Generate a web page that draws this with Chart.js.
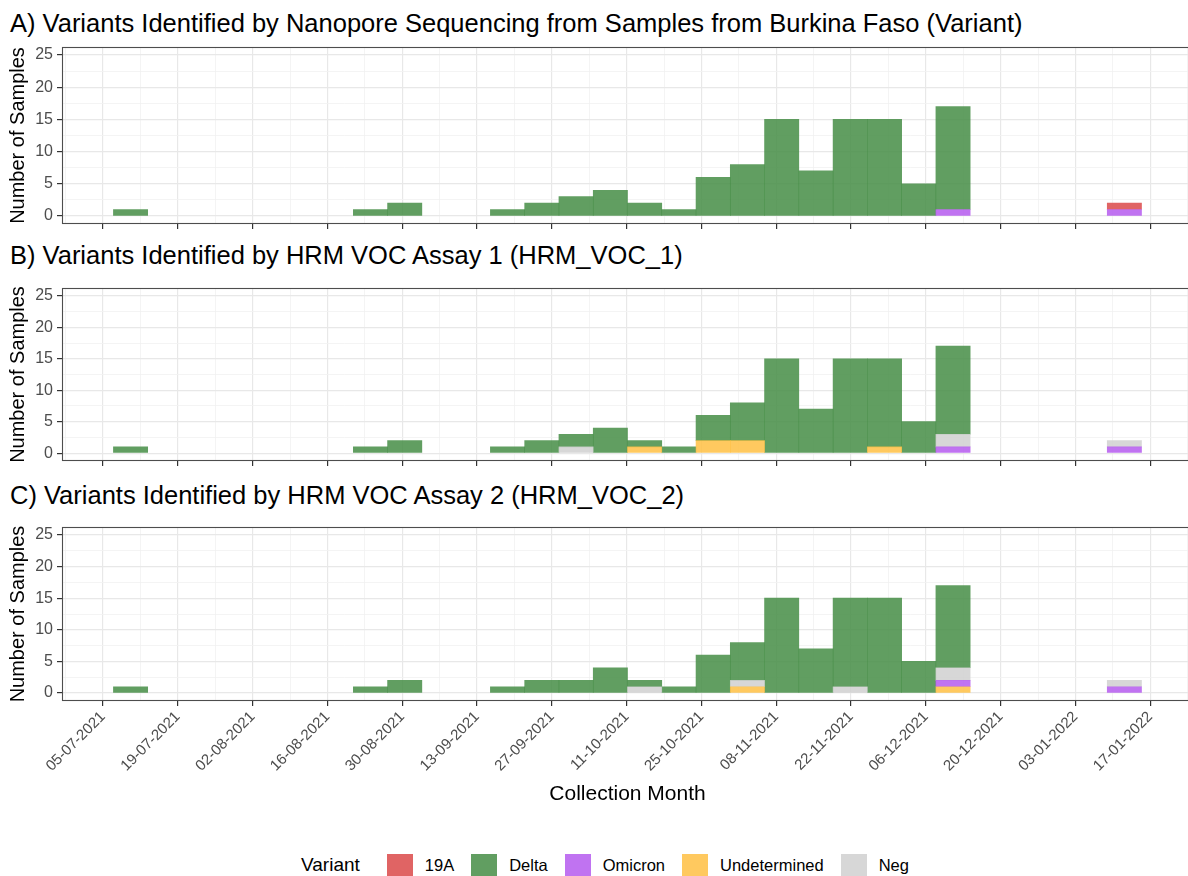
<!DOCTYPE html>
<html>
<head>
<meta charset="utf-8">
<script src="https://cdn.jsdelivr.net/npm/chart.js@4.4.1/dist/chart.umd.min.js"></script>
<style>
    body { margin: 0; width: 1188px; height: 876px; overflow: hidden; background: #fff;
           font-family: "Liberation Sans", Arial, sans-serif; position: relative; }
    .panel-title { position: absolute; left: 10px; font-size: 25.5px; line-height: 28px; color: #000; white-space: nowrap; }
    canvas { position: absolute; left: 0; }
    #legend { position: absolute; left: 301px; top: 854px; height: 22px; display: flex; align-items: center; }
    #legend .legend-title { font-size: 19px; margin-right: 27px; color: #000; }
    #legend .swatch { width: 26px; height: 22px; margin-right: 12px; }
    #legend .label { font-size: 16.5px; margin-right: 17px; color: #000; }
</style>
</head>
<body>
<div class="panel-title" id="title-a" style="top:9px"></div>
<canvas id="chart-a" width="1196" height="200" style="top:40px"></canvas>
<div class="panel-title" id="title-b" style="top:241px"></div>
<canvas id="chart-b" width="1196" height="200" style="top:281px"></canvas>
<div class="panel-title" id="title-c" style="top:481px"></div>
<canvas id="chart-c" width="1196" height="300" style="top:520px"></canvas>
<div id="legend"></div>

<script>
// =============================
// DATA
// =============================
const panelTitles = [
    'A) Variants Identified by Nanopore Sequencing from Samples from Burkina Faso (Variant)',
    'B) Variants Identified by HRM VOC Assay 1 (HRM_VOC_1)',
    'C) Variants Identified by HRM VOC Assay 2 (HRM_VOC_2)'
];

// histogram bin centres, in days after 05-07-2021
const binCentres = [5.15, 11.57, 17.98, 24.39, 30.81, 37.22, 43.63, 50.05, 56.46, 62.88,
                    69.29, 75.70, 82.12, 88.53, 94.95, 101.36, 107.77, 114.19, 120.60, 127.01,
                    133.43, 139.84, 146.26, 152.67, 159.08, 165.50, 171.91, 178.32, 184.74, 191.15];

// x ticks (days after 05-07-2021) and their labels
const tickDays = [0, 14, 28, 42, 56, 70, 84, 98, 112, 126, 140, 154, 168, 182, 196];
const tickLabels = ['05-07-2021', '19-07-2021', '02-08-2021', '16-08-2021', '30-08-2021',
                    '13-09-2021', '27-09-2021', '11-10-2021', '25-10-2021', '08-11-2021',
                    '22-11-2021', '06-12-2021', '20-12-2021', '03-01-2022', '17-01-2022'];
const yTicks = [0, 5, 10, 15, 20, 25];

const variantNames = ['19A', 'Delta', 'Omicron', 'Undetermined', 'Neg'];
const variantColours = ['rgba(219, 73, 73, 0.85)', 'rgba(69, 141, 69, 0.85)', 'rgba(181, 91, 238, 0.85)',
                        'rgba(255, 191, 67, 0.85)', 'rgba(208, 208, 208, 0.85)'];

// A) Nanopore
const nanoDelta   = [1,0,0,0,0,0,0,1,2,0,0,1,2,3,4,2,1,6,8,15,7,15,15,5,16,0,0,0,0,0];
const nanoOmicron = [0,0,0,0,0,0,0,0,0,0,0,0,0,0,0,0,0,0,0,0,0,0,0,0,1,0,0,0,0,1];
const nano19A     = [0,0,0,0,0,0,0,0,0,0,0,0,0,0,0,0,0,0,0,0,0,0,0,0,0,0,0,0,0,1];

// B) HRM_VOC_1
const voc1Delta        = [1,0,0,0,0,0,0,1,2,0,0,1,2,2,4,1,1,4,6,15,7,15,14,5,14,0,0,0,0,0];
const voc1Omicron      = [0,0,0,0,0,0,0,0,0,0,0,0,0,0,0,0,0,0,0,0,0,0,0,0,1,0,0,0,0,1];
const voc1Undetermined = [0,0,0,0,0,0,0,0,0,0,0,0,0,0,0,1,0,2,2,0,0,0,1,0,0,0,0,0,0,0];
const voc1Neg          = [0,0,0,0,0,0,0,0,0,0,0,0,0,1,0,0,0,0,0,0,0,0,0,0,2,0,0,0,0,1];

// C) HRM_VOC_2
const voc2Delta        = [1,0,0,0,0,0,0,1,2,0,0,1,2,2,4,1,1,6,6,15,7,14,15,5,13,0,0,0,0,0];
const voc2Omicron      = [0,0,0,0,0,0,0,0,0,0,0,0,0,0,0,0,0,0,0,0,0,0,0,0,1,0,0,0,0,1];
const voc2Undetermined = [0,0,0,0,0,0,0,0,0,0,0,0,0,0,0,0,0,0,1,0,0,0,0,0,1,0,0,0,0,0];
const voc2Neg          = [0,0,0,0,0,0,0,0,0,0,0,0,0,0,0,1,0,0,1,0,0,1,0,0,2,0,0,0,0,1];

// =============================
// CHART SETUP
// =============================
Chart.defaults.font.family = '"Liberation Sans", Arial, sans-serif';
Chart.defaults.animation = false;

const xMin = -7.68;
const xMax = 203.99;
const xAllTicks = [-7].concat(tickDays.flatMap(d => [d, d + 7])).sort((a, b) => a - b);
const yAllTicks = yTicks.flatMap(v => v < 25 ? [v, v + 2.5] : [v]);

const isMajorX = v => tickDays.includes(v);
const isMajorY = v => yTicks.includes(v);

const panelBorder = {
    id: 'panelBorder',
    afterDraw(chart) {
        const { ctx, chartArea: a } = chart;
        ctx.save();
        ctx.strokeStyle = '#4d4d4d';
        ctx.lineWidth = 1.1;
        ctx.strokeRect(Math.round(a.left) + 0.5, Math.round(a.top) + 0.5,
                       Math.round(a.right - a.left) - 1, Math.round(a.bottom - a.top) - 1);
        ctx.restore();
    }
};

// stack order from the bottom: Undetermined, Omicron, Neg, Delta, 19A
// empty bins are left out so that no zero-height sliver is drawn
function makeDataset(name, values) {
    const idx = variantNames.indexOf(name);
    return {
        label: name,
        data: values.map((v, i) => ({ x: binCentres[i], y: v })).filter(p => p.y > 0),
        backgroundColor: variantColours[idx],
        borderWidth: 0,
        barPercentage: 1,
        categoryPercentage: 1
    };
}

function buildChart(canvasId, datasets, showXLabels, xAxisHeight) {
    const ctx = document.getElementById(canvasId).getContext('2d');
    return new Chart(ctx, {
        type: 'bar',
        data: { datasets: datasets },
        options: {
            responsive: false,
            layout: { padding: { top: 7, right: 3, bottom: 0, left: 0 } },
            plugins: { legend: { display: false }, tooltip: { enabled: false } },
            scales: {
                x: {
                    type: 'linear',
                    stacked: true,
                    offset: false,
                    bounds: 'data',
                    min: xMin,
                    max: xMax,
                    afterBuildTicks: axis => { axis.ticks = xAllTicks.map(v => ({ value: v })); },
                    afterFit: axis => {
                        axis.height = xAxisHeight;
                        axis.paddingLeft = 0; axis.paddingRight = 0;
                    },
                    border: { display: false },
                    grid: {
                        offset: false,
                        color: c => isMajorX(c.tick.value) ? '#e8e8e8' : '#f1f1f1',
                        lineWidth: c => isMajorX(c.tick.value) ? 1.2 : 0.8,
                        tickColor: c => isMajorX(c.tick.value) ? '#333333' : 'rgba(0,0,0,0)',
                        tickLength: 5,
                        tickWidth: 1.2
                    },
                    ticks: {
                        autoSkip: false,
                        maxRotation: showXLabels ? 45 : 0,
                        minRotation: showXLabels ? 45 : 0,
                        padding: 2,
                        color: '#4d4d4d',
                        font: { size: 15 },
                        callback: v => (showXLabels && isMajorX(v)) ? tickLabels[tickDays.indexOf(v)] : ''
                    },
                    title: {
                        display: showXLabels,
                        text: 'Collection Month',
                        color: '#000',
                        font: { size: 21 },
                        padding: { top: 0, bottom: 13 }
                    }
                },
                y: {
                    stacked: true,
                    bounds: 'data',
                    min: -1.25,
                    max: 26.25,
                    afterBuildTicks: axis => { axis.ticks = yAllTicks.map(v => ({ value: v })); },
                    afterFit: axis => {
                        axis.width = 62;
                        axis.paddingTop = 0; axis.paddingBottom = 0;
                    },
                    border: { display: false },
                    grid: {
                        color: c => isMajorY(c.tick.value) ? '#e8e8e8' : '#f1f1f1',
                        lineWidth: c => isMajorY(c.tick.value) ? 1.2 : 0.8,
                        tickColor: c => isMajorY(c.tick.value) ? '#333333' : 'rgba(0,0,0,0)',
                        tickLength: 5,
                        tickWidth: 1.2
                    },
                    ticks: {
                        autoSkip: false,
                        padding: 4,
                        color: '#4d4d4d',
                        font: { size: 16 },
                        callback: v => isMajorY(v) ? String(v) : ''
                    },
                    title: {
                        display: true,
                        text: 'Number of Samples',
                        color: '#000',
                        font: { size: 20 },
                        padding: { top: 6, bottom: 0 }
                    }
                }
            }
        },
        plugins: [panelBorder]
    });
}

document.getElementById('title-a').textContent = panelTitles[0];
document.getElementById('title-b').textContent = panelTitles[1];
document.getElementById('title-c').textContent = panelTitles[2];

buildChart('chart-a', [
    makeDataset('Omicron', nanoOmicron),
    makeDataset('Delta', nanoDelta),
    makeDataset('19A', nano19A)
], false, 16);

buildChart('chart-b', [
    makeDataset('Undetermined', voc1Undetermined),
    makeDataset('Omicron', voc1Omicron),
    makeDataset('Neg', voc1Neg),
    makeDataset('Delta', voc1Delta)
], false, 20);

buildChart('chart-c', [
    makeDataset('Undetermined', voc2Undetermined),
    makeDataset('Omicron', voc2Omicron),
    makeDataset('Neg', voc2Neg),
    makeDataset('Delta', voc2Delta)
], true, 119);

// shared legend
const legend = document.getElementById('legend');
legend.innerHTML = '<span class="legend-title">Variant</span>' + variantNames.map((name, i) =>
    `<span class="swatch" style="background:${variantColours[i]}"></span><span class="label">${name}</span>`
).join('');
</script>
</body>
</html>
